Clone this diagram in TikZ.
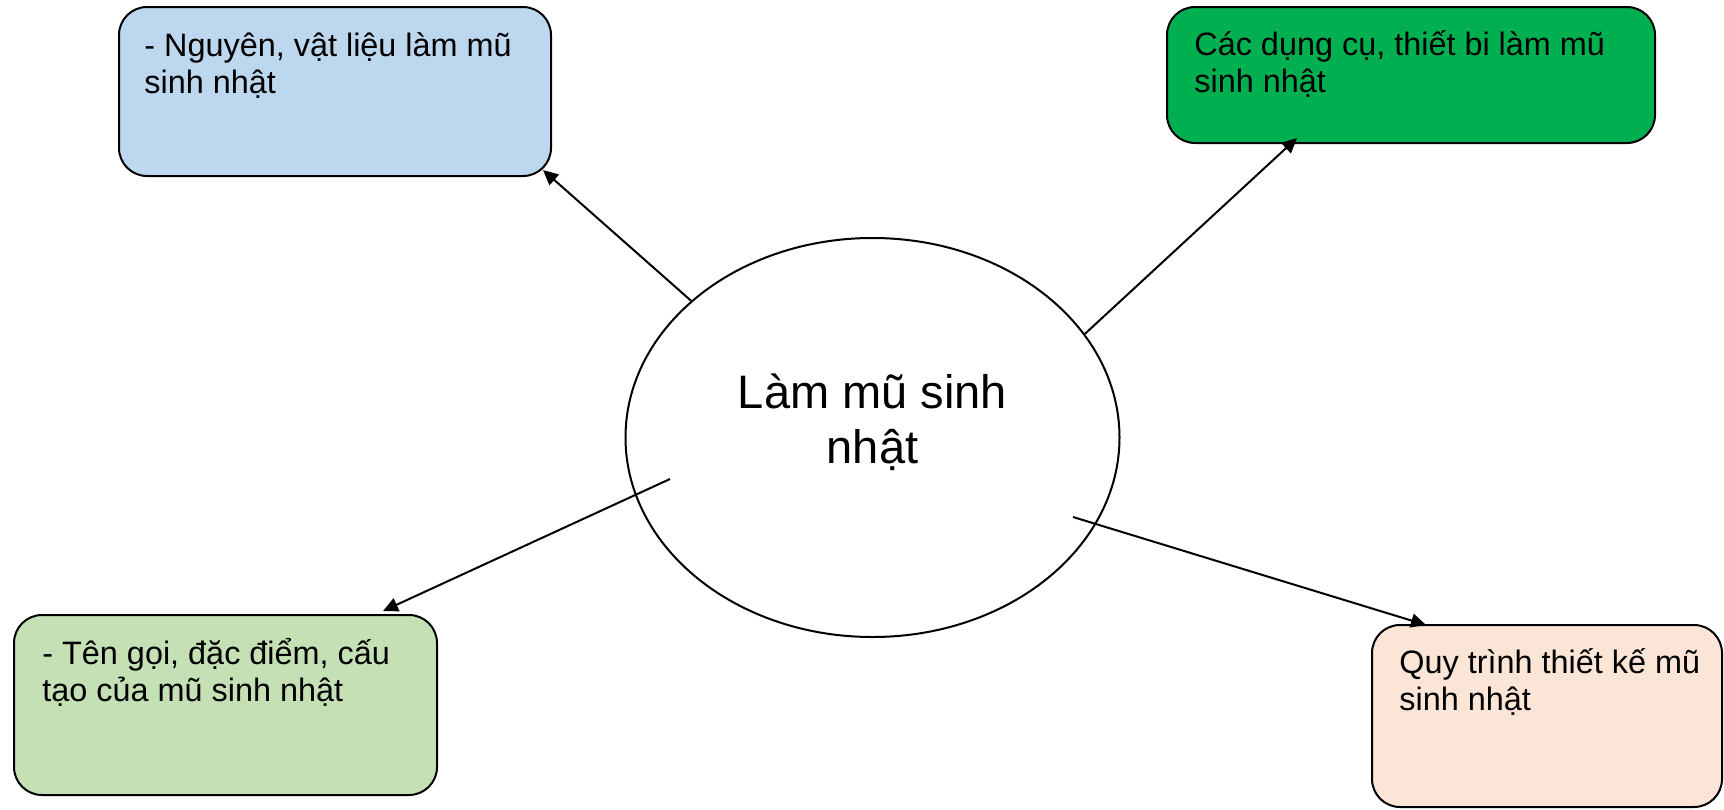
\documentclass[tikz,border=0pt]{standalone}
\usepackage{fontspec}
\setmainfont{Liberation Sans}
\usetikzlibrary{shapes.geometric,arrows.meta}
\definecolor{matblue}{HTML}{BDD7EE}
\definecolor{toolgreen}{HTML}{00B050}
\definecolor{partgreen}{HTML}{C5E0B4}
\definecolor{steppeach}{HTML}{FBE5D6}
\tikzset{
  card/.style 2 args={draw, line width=1pt, rounded corners=14pt, inner sep=0pt,
    minimum width=#1, minimum height=#2},
  cardtext/.style={anchor=base west, align=left, inner sep=0pt,
    font=\fontsize{16.2}{18.3}\selectfont},
  link/.style={line width=1pt, -{Triangle[length=7.5pt,width=7pt]}}
}

\begin{document}
\begin{tikzpicture}[x=0.5pt,y=-0.5pt]
\path[fill=white] (0,0) rectangle (1724,809);
\useasboundingbox (0,0) rectangle (1724,809);
% centre
\node[draw, ellipse, line width=1pt, inner sep=0pt, minimum width=247pt, minimum height=199.5pt] (hat) at (872.5,437.5) {};
\node[anchor=base, align=center, inner sep=0pt, font=\fontsize{23.5}{27.5}\selectfont] (title) at ([shift={(0,25.5)}]hat.center) {Làm mũ sinh\\nhật};
% four boxes
\node[card={216pt}{84.5pt}, fill=matblue] (mat) at (335,91.5) {};
\node[cardtext] (mattext) at ([shift={(26,87)}]mat.north west) {- Nguyên, vật liệu làm mũ\\sinh nhật};
\node[card={244pt}{68pt}, fill=toolgreen] (tools) at (1411,75) {};
\node[cardtext] (toolstext) at ([shift={(28,86)}]tools.north west) {Các dụng cụ, thiết bi làm mũ\\sinh nhật};
\node[card={211.5pt}{90pt}, fill=partgreen] (parts) at (225.5,705) {};
\node[cardtext] (partstext) at ([shift={(29,87)}]parts.north west) {- Tên gọi, đặc điểm, cấu\\tạo của mũ sinh nhật};
\node[card={175pt}{91pt}, fill=steppeach] (steps) at (1547,716) {};
\node[cardtext] (stepstext) at ([shift={(28,86)}]steps.north west) {Quy trình thiết kế mũ\\sinh nhật};
% arrows
\draw[link] (hat.143) -- ([shift={(-9,-7)}]mat.south east);
\draw[link] (hat.26) -- ([shift={(131,-6)}]tools.south west);
\draw[link] ([shift={(-202.5,41.5)}]hat.center) -- ([shift={(370,-3)}]parts.north west);
\draw[link] ([shift={(200.5,79.5)}]hat.center) -- ([shift={(55,1)}]steps.north west);
\end{tikzpicture}
\end{document}
